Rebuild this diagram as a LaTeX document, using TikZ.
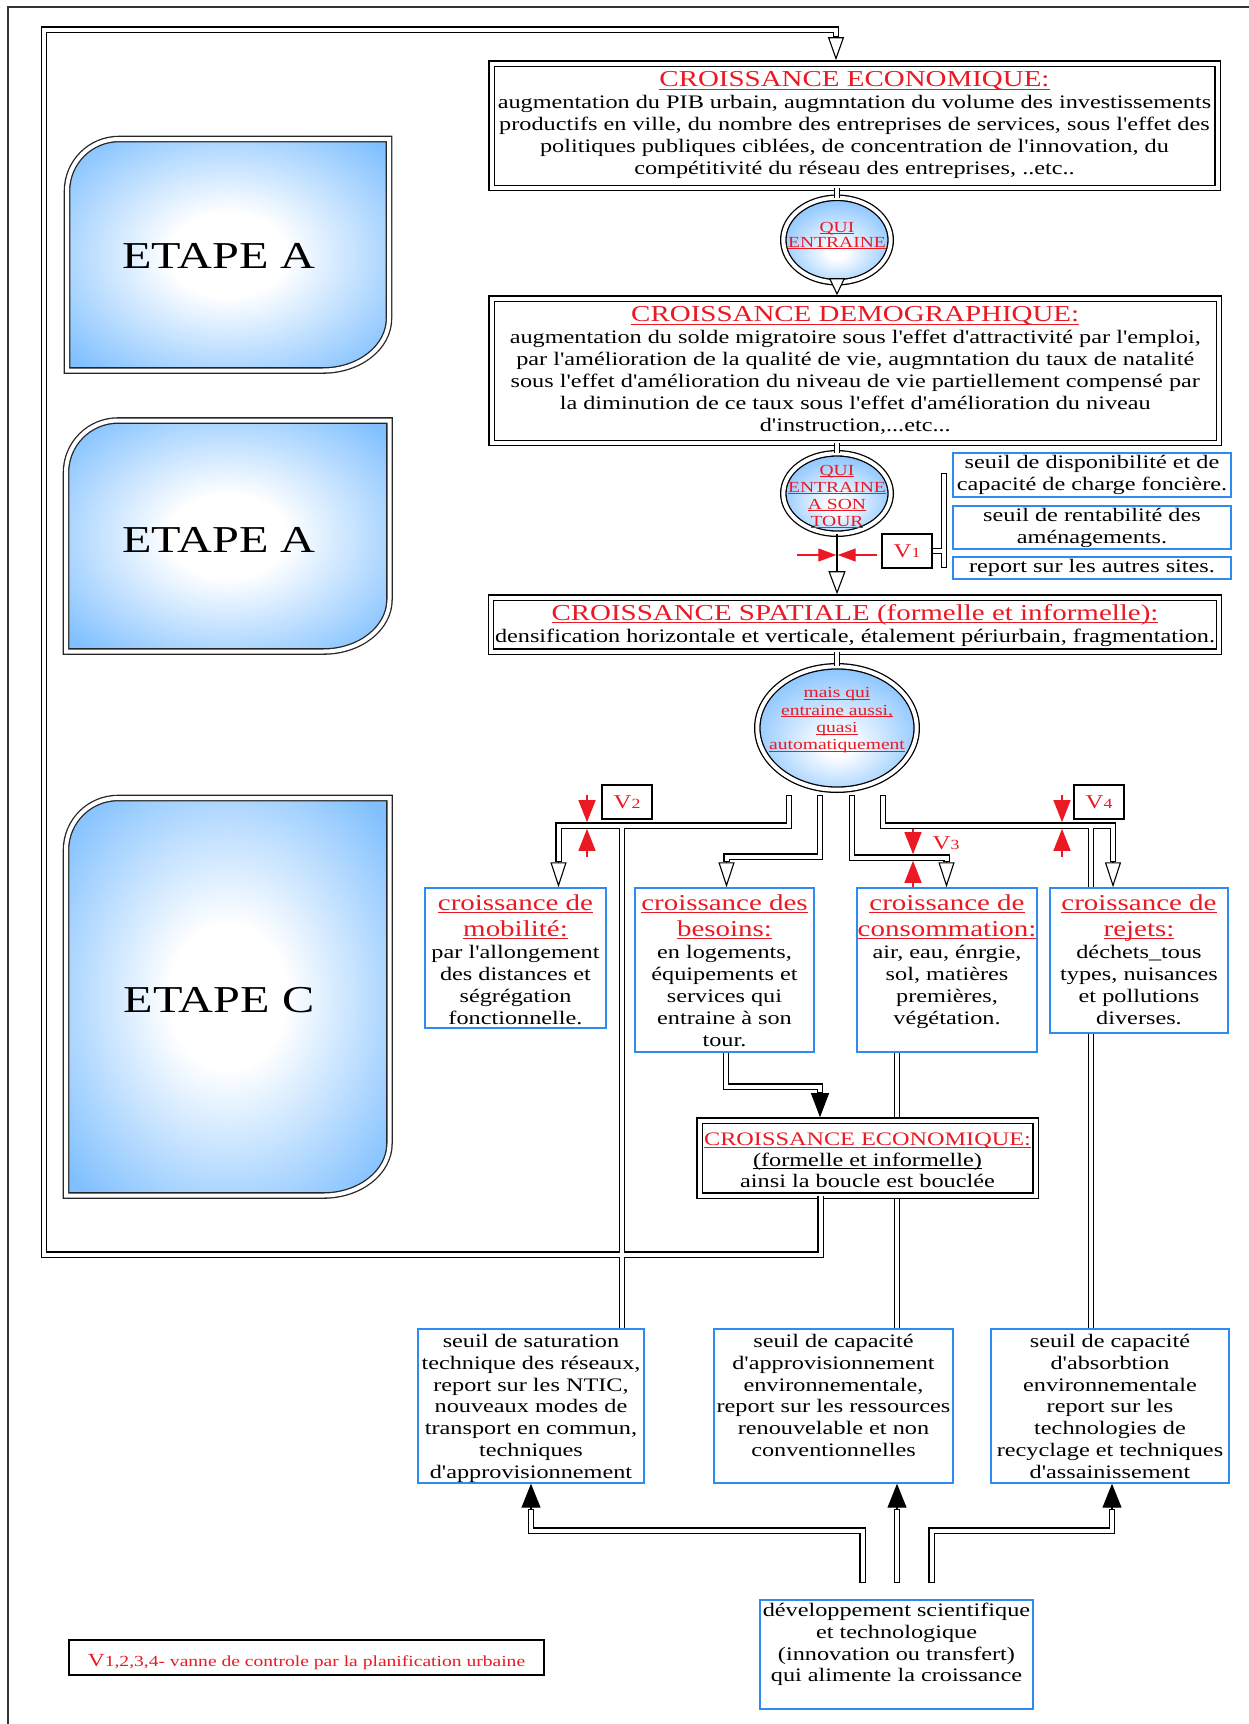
\documentclass[tikz,border=0pt]{standalone}
\usepackage{fontspec}
\setmainfont{Liberation Serif}[FakeStretch=1.27, Ligatures=TeXOff]
\usetikzlibrary{arrows.meta,shapes.geometric,calc}
\definecolor{tred}{RGB}{235,25,35}
\definecolor{bblue}{RGB}{45,140,240}
\definecolor{sky}{RGB}{128,192,255}
\pgfdeclareradialshading{etapeshade}{\pgfpoint{0bp}{0bp}}{color(0bp)=(white); color(9bp)=(white); color(33bp)=(sky); color(50bp)=(sky)}
\pgfdeclareradialshading{ellshade}{\pgfpoint{0bp}{-8bp}}{color(0bp)=(white); color(4bp)=(white); color(30bp)=(sky); color(50bp)=(sky)}
\pgfdeclarelayer{netl}
\pgfdeclarelayer{topl}
\pgfsetlayers{netl,main,topl}
\newsavebox\ulbx
\newcommand\ulr[1]{\sbox\ulbx{#1}\rlap{\rule[-0.13em]{\wd\ulbx}{0.055em}}\usebox\ulbx}
\newcommand\rt[1]{{\color{tred}\ulr{#1}}}
\newcommand\bodyf{\fontsize{19.1}{22}\selectfont}
\newcommand\titf{\fontsize{22.8}{22}\selectfont}
\newcommand\vlab[1]{{\color{tred}{\fontsize{19.5}{20}\selectfont V}{\fontsize{14}{14}\selectfont #1}}}
\newcommand\blackseg[2]{\draw[dblk] #2;}
\newcommand\whiteseg[2]{\draw[dwht,#1] #2;}
\newcommand\runnet[1]{\let\dseg\blackseg #1\let\dseg\whiteseg #1}
\newcommand\etapebox[4]{\shadedraw[etape] (#1,#2+52) .. controls (#1,#2+23.3) and (#1+23.3,#2) .. (#1+52,#2) -- (#3,#2) -- (#3,#4-52) .. controls (#3,#4-23.3) and (#3-29.5,#4) .. (#3-66,#4) -- (#1,#4) -- cycle;}
\tikzset{
  dblk/.style={line width=6.6pt, draw=black},
  dwht/.style={line width=4pt, draw=white},
  capS/.style={shorten <=1.3pt},
  capE/.style={shorten >=1.3pt},
  dbox/.style={draw, double, double distance=4pt, line width=1.3pt, fill=white, inner sep=0pt, outer sep=0pt},
  bluebox/.style={draw=bblue, line width=1.4pt, fill=white, inner sep=0pt, outer sep=0pt, align=center, font=\bodyf},
  valvebox/.style={draw, line width=1.2pt, fill=white, inner sep=0pt, outer sep=0pt, minimum width=50pt, minimum height=34pt},
  txt/.style={align=center, inner sep=0pt, anchor=north, font=\bodyf},
  elltxt/.style={align=center, inner sep=0pt, anchor=north, font=\fontsize{15.4}{17}\selectfont},
  ell/.style={ellipse, draw, double, double distance=4pt, line width=1.3pt, shade, shading=ellshade, inner sep=0pt, outer sep=0pt},
  etape/.style={draw=black!85, double, double distance=4pt, line width=1.3pt, shading=etapeshade},
  etapetxt/.style={inner sep=0pt, font=\fontsize{38}{40}\selectfont},
  arrl/.style={line width=1.1pt},
  varr/.style={draw=tred, line width=1.2pt, -{Triangle[length=22pt,width=17pt]}},
  harr/.style={draw=tred, line width=1.2pt, -{Triangle[length=18pt,width=13pt]}},
}
\begin{document}
\begin{tikzpicture}[x=1pt,y=-1pt]
\useasboundingbox (0,0) rectangle (1249,1724);
% outer frame
\draw[line width=1.4pt, black!80] (8,1724) -- (8,7) -- (1249,7);
% ETAPE panels
\etapebox{67}{139}{389}{370.5}
\etapebox{66}{420.5}{389.5}{651.5}
\etapebox{66}{798}{389.5}{1195.5}
\node[etapetxt] (etA1) at (219,256) {ETAPE A};
\node[etapetxt] (etA2) at (219,539.5) {ETAPE A};
\node[etapetxt] (etC) at (219,1000.5) {ETAPE C};

% main boxes
\node[dbox, minimum width=726pt, minimum height=124.5pt] (eco1) at (854.5,125.75) {};
\node[dbox, minimum width=727.5pt, minimum height=144.5pt] (demo) at (855.25,370.75) {};
\node[dbox, minimum width=728pt, minimum height=54pt] (spat) at (855,624.5) {};
\node[dbox, minimum width=336pt, minimum height=75pt] (eco2) at (867.5,1158) {};
\node[ell, minimum width=107.4pt, minimum height=84.4pt] (ell1) at (837,240) {};
\node[ell, minimum width=107.4pt, minimum height=80.4pt] (ell2) at (837,493.5) {};
\node[ell, minimum width=159.4pt, minimum height=123.4pt] (ell3) at (837,728) {};

% valve boxes
\node[valvebox] (v1) at (907,551) {\vlab{1}};
\node[valvebox] (v2) at (627,802) {\vlab{2}};
\node[valvebox] (v4) at (1099,802) {\vlab{4}};
\node[inner sep=0pt] (v3) at (946,843) {\vlab{3}};

% blue boxes
\node[bluebox, minimum width=278pt, minimum height=44pt] (bx1) at (1092,475) {seuil de disponibilité et de\\capacité de charge foncière.};
\node[bluebox, minimum width=278pt, minimum height=43pt] (bx2) at (1092,527.5) {seuil de rentabilité des\\aménagements.};
\node[bluebox, minimum width=278pt, minimum height=22pt] (bx3) at (1092,568) {report sur les autres sites.};
\node[bluebox, minimum width=181pt, minimum height=140pt] (mob) at (515.5,958) {};
\node[bluebox, minimum width=179pt, minimum height=164pt] (bes) at (724.5,970) {};
\node[bluebox, minimum width=180pt, minimum height=164pt] (cons) at (947,970) {};
\node[bluebox, minimum width=178pt, minimum height=145pt] (rej) at (1139,960.5) {};
\node[bluebox, minimum width=226pt, minimum height=154pt] (sat) at (531,1406) {};
\node[bluebox, minimum width=239pt, minimum height=154pt] (cap) at (833.5,1406) {};
\node[bluebox, minimum width=238pt, minimum height=154pt] (abs) at (1110,1406) {};
\node[bluebox, minimum width=273pt, minimum height=109pt] (dev) at (896.5,1654.5) {};
\node[draw, line width=1.3pt, fill=white, minimum width=475pt, minimum height=35pt, inner sep=0pt, text height=20pt, text depth=2pt] (leg) at (306.5,1657.5)
  {\color{tred}{\fontsize{18.5}{19}\selectfont V}{\fontsize{15.4}{16}\selectfont 1,2,3,4- vanne de controle par la planification urbaine}};

% texts
\node[txt] (eco1t) at ($(eco1.north)+(0,8.1)$) {{\titf\rt{CROISSANCE ECONOMIQUE:}}\\
augmentation du PIB urbain, augmntation du volume des investissements\\
productifs en ville, du nombre des entreprises de services, sous l'effet des\\
politiques publiques ciblées, de concentration de l'innovation, du\\
compétitivité du réseau des entreprises, ..etc..};
\node[txt] (demot) at ($(demo.north)+(0,8.1)$) {{\titf\rt{CROISSANCE DEMOGRAPHIQUE:}}\\
augmentation du solde migratoire sous l'effet d'attractivité par l'emploi,\\
par l'amélioration de la qualité de vie, augmntation du taux de natalité\\
sous l'effet d'amélioration du niveau de vie partiellement compensé par\\
la diminution de ce taux sous l'effet d'amélioration du niveau\\
d'instruction,...etc...};
\node[txt] (spatt) at ($(spat.north)+(0,6.5)$) {{\titf\rt{CROISSANCE SPATIALE (formelle et informelle):}}\\
densification horizontale et verticale, étalement périurbain, fragmentation.};
\node[txt, font=\fontsize{19.1}{21}\selectfont] (eco2t) at ($(eco2.north)+(0,12.5)$) {\rt{CROISSANCE ECONOMIQUE:}\\
\ulr{(formelle et informelle)}\\ ainsi la boucle est bouclée};
\node[elltxt, font=\fontsize{15.4}{15}\selectfont] (ell1t) at (837,221.6) {\rt{QUI}\\\rt{ENTRAINE}};
\node[elltxt] (ell2t) at (837,464.6) {\rt{QUI}\\\rt{ENTRAINE}\\\rt{A SON}\\\rt{TOUR}};
\node[elltxt, font=\fontsize{15.4}{17.3}\selectfont] (ell3t) at (837,687.5) {\rt{mais qui}\\\rt{entraine aussi,}\\\rt{quasi}\\\rt{automatiquement}};
\node[txt] (mobt) at ($(mob.north)+(0,6.4)$) {{\titf\rt{croissance de}}\\[4pt]{\titf\rt{mobilité:}}\\
par l'allongement\\des distances et\\ségrégation\\fonctionnelle.};
\node[txt] (best) at ($(bes.north)+(0,6.4)$) {{\titf\rt{croissance des}}\\[4pt]{\titf\rt{besoins:}}\\
en logements,\\équipements et\\services qui\\entraine à son\\tour.};
\node[txt] (const) at ($(cons.north)+(0,6.4)$) {{\titf\rt{croissance de}}\\[4pt]{\titf\rt{consommation:}}\\
air, eau, énrgie,\\sol, matières\\premières,\\végétation.};
\node[txt] (rejt) at ($(rej.north)+(0,6.4)$) {{\titf\rt{croissance de}}\\[4pt]{\titf\rt{rejets:}}\\
déchets\_tous\\types, nuisances\\et pollutions\\diverses.};
\node[txt, font=\fontsize{19.1}{21.8}\selectfont] (satt) at ($(sat.north)+(0,5)$) {seuil de saturation\\technique des réseaux,\\report sur les NTIC,\\nouveaux modes de\\transport en commun,\\techniques\\d'approvisionnement};
\node[txt, font=\fontsize{19.1}{21.8}\selectfont] (capt) at ($(cap.north)+(0,5)$) {seuil de capacité\\d'approvisionnement\\environnementale,\\report sur les ressources\\renouvelable et non\\conventionnelles};
\node[txt, font=\fontsize{19.1}{21.8}\selectfont] (abst) at ($(abs.north)+(0,5)$) {seuil de capacité\\d'absorbtion\\environnementale\\report sur les\\technologies de\\recyclage et techniques\\d'assainissement};
\node[txt, font=\fontsize{19.1}{21.7}\selectfont] (devt) at ($(dev.north)+(0,3)$) {développement scientifique\\et technologique\\(innovation ou transfert)\\qui alimente la croissance};

% coordinates of the connector network
\coordinate (lp1) at (820.5,1254.5);
\coordinate (lp2) at (44,1254.5);
\coordinate (lp3) at (44,29.5);
\coordinate (lp4) at (836,29.5);
\coordinate (lp5) at (836,37);
\coordinate (lpst) at (820.5,1204);
\coordinate (pA0) at (789,795);
\coordinate (pA1) at (789,825.5);
\coordinate (pA2) at (558.5,825.5);
\coordinate (pA3) at (558.5,862);
\coordinate (pAb) at (622,825.5);
\coordinate (pB0) at (820,795);
\coordinate (pB1) at (820,856.5);
\coordinate (pB2) at (726.5,856.5);
\coordinate (pB3) at (726.5,862);
\coordinate (pC0) at (852,795);
\coordinate (pC1) at (852,857.5);
\coordinate (pC2) at (946.5,857.5);
\coordinate (pC3) at (946.5,862);
\coordinate (pD0) at (883,795);
\coordinate (pD1) at (883,825.5);
\coordinate (pD2) at (1113,825.5);
\coordinate (pD3) at (1113,862);
\coordinate (pDb) at (1091,825.5);
\coordinate (pE1) at (726,1086.5);
\coordinate (pE2) at (820,1086.5);
\coordinate (pE3) at (820,1093);
\coordinate (pF) at (897,1100);
\coordinate (pG1) at (944,473);
\coordinate (pG2) at (944,568);
\coordinate (pL0) at (862.5,1583);
\coordinate (pL1) at (862.5,1530.5);
\coordinate (pL2) at (531,1530.5);
\coordinate (pL3) at (531,1509);
\coordinate (pM0) at (897,1583);
\coordinate (pM1) at (897,1509);
\coordinate (pR0) at (931.5,1583);
\coordinate (pR1) at (931.5,1530.5);
\coordinate (pR2) at (1112,1530.5);
\coordinate (pR3) at (1112,1509);
\coordinate (pV1a) at (797,555);
\coordinate (pV1b) at (836.3,555);
\coordinate (pV1c) at (877,555);
\coordinate (pV1d) at (837.7,555);
\coordinate (pV2a) at (587,795);
\coordinate (pV2b) at (587,822.2);
\coordinate (pV2c) at (587,857);
\coordinate (pV2d) at (587,828.8);
\coordinate (pV3a) at (913,829);
\coordinate (pV3b) at (913,854.2);
\coordinate (pV3c) at (913,887);
\coordinate (pV3d) at (913,860.8);
\coordinate (pV4a) at (1062,795);
\coordinate (pV4b) at (1062,822.2);
\coordinate (pV4c) at (1062,857);
\coordinate (pV4d) at (1062,828.8);

% double-line connectors behind the boxes
\begin{pgfonlayer}{netl}
\runnet{%
\dseg{capE}{(eco2.south -| lp1) -- (lp1) -- (lp2) -- (lp3) -- (lp4) -- (lp5)}%
\dseg{capS,capE}{(pA0) -- (pA1) -- (pA2) -- (pA3)}%
\dseg{}{(pAb) -- (pAb |- sat.north)}%
\dseg{capS,capE}{(pB0) -- (pB1) -- (pB2) -- (pB3)}%
\dseg{capS,capE}{(pC0) -- (pC1) -- (pC2) -- (pC3)}%
\dseg{capS,capE}{(pD0) -- (pD1) -- (pD2) -- (pD3)}%
\dseg{}{(pDb) -- (pDb |- abs.north)}%
\dseg{capE}{(pE1 |- bes.south) -- (pE1) -- (pE2) -- (pE3)}%
\dseg{}{(pF |- cons.south) -- (pF |- cap.north)}%
\dseg{capS,capE}{(pG1) -- (pG2)}%
\dseg{}{(v1.east) -- (v1.east -| pG1)}%
\dseg{capS,capE}{(pL0) -- (pL1) -- (pL2) -- (pL3)}%
\dseg{capS,capE}{(pM0) -- (pM1)}%
\dseg{capS,capE}{(pR0) -- (pR1) -- (pR2) -- (pR3)}%
}
\end{pgfonlayer}

% short joins and arrow heads in front
\begin{pgfonlayer}{topl}
\runnet{%
\dseg{}{(ell1.north |- eco1.south) -- (ell1.north)}%
\dseg{}{(ell2.north |- demo.south) -- (ell2.north)}%
\dseg{}{(ell3.north |- spat.south) -- (ell3.north)}%
\dseg{}{(eco2.south -| lp1) -- (lpst)}%
}
\draw[arrl, -{Triangle[length=23pt,width=16pt,fill=white]}, shorten >=3.3pt] (lp5) -- (lp5 |- eco1.north);
\draw[arrl, -{Triangle[length=17pt,width=16pt,fill=white]}, shorten >=3.3pt] (ell1.south) -- (ell1.south |- demo.north);
\draw[arrl, -{Triangle[length=23pt,width=17pt,fill=white]}, shorten >=3.3pt] (ell2.south) -- (ell2.south |- spat.north);
\draw[arrl, -{Triangle[length=25pt,width=16pt,fill=white]}, shorten >=0.7pt] (pA3) -- (pA3 |- mob.north);
\draw[arrl, -{Triangle[length=25pt,width=16pt,fill=white]}, shorten >=0.7pt] (pB3) -- (pB3 |- bes.north);
\draw[arrl, -{Triangle[length=25pt,width=16pt,fill=white]}, shorten >=0.7pt] (pC3) -- (pC3 |- cons.north);
\draw[arrl, -{Triangle[length=25pt,width=16pt,fill=white]}, shorten >=0.7pt] (pD3) -- (pD3 |- rej.north);
\draw[arrl, -{Triangle[length=24pt,width=18pt]}, shorten >=3.3pt] (pE3) -- (pE3 |- eco2.north);
\draw[arrl, -{Triangle[length=24pt,width=19pt]}, shorten >=0.7pt] (pL3) -- (pL3 |- sat.south);
\draw[arrl, -{Triangle[length=24pt,width=19pt]}, shorten >=0.7pt] (pM1) -- (pM1 |- cap.south);
\draw[arrl, -{Triangle[length=24pt,width=19pt]}, shorten >=0.7pt] (pR3) -- (pR3 |- abs.south);
\draw[harr] (pV1a) -- (pV1b);
\draw[harr] (pV1c) -- (pV1d);
\draw[varr] (pV2a) -- (pV2b);
\draw[varr] (pV2c) -- (pV2d);
\draw[varr] (pV3a) -- (pV3b);
\draw[varr] (pV3c) -- (pV3d);
\draw[varr] (pV4a) -- (pV4b);
\draw[varr] (pV4c) -- (pV4d);
\end{pgfonlayer}
\end{tikzpicture}
\end{document}
